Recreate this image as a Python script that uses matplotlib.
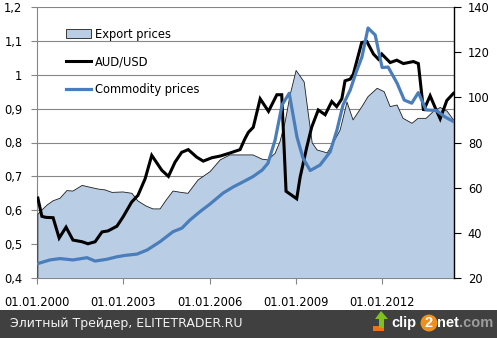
import numpy as np
import matplotlib
matplotlib.use("Agg")
import matplotlib.pyplot as plt
from matplotlib.patches import Patch, Rectangle, Polygon
from matplotlib.lines import Line2D

# export price index (right axis)
export_year = [2000.03, 2000.17, 2000.35, 2000.56, 2000.80, 2001.04, 2001.25, 2001.57, 2001.84,
               2002.12, 2002.37, 2002.61, 2002.99, 2003.30, 2003.51, 2003.79, 2004.03, 2004.28,
               2004.49, 2004.73, 2005.01, 2005.25, 2005.60, 2006.02, 2006.37, 2006.71, 2007.10,
               2007.51, 2007.83, 2008.03, 2008.28, 2008.45, 2008.63, 2008.80, 2009.01, 2009.29,
               2009.43, 2009.57, 2009.74, 2010.09, 2010.26, 2010.54, 2010.78, 2010.99, 2011.30,
               2011.51, 2011.83, 2012.07, 2012.28, 2012.52, 2012.73, 2013.04, 2013.25, 2013.53,
               2013.77, 2014.02, 2014.26, 2014.50]
export_idx = [48.2, 50.1, 52.3, 54.2, 55.3, 58.7, 58.5, 61.0, 60.2, 59.4, 59.0, 57.9, 58.1, 57.5,
              54.1, 51.9, 50.6, 50.6, 54.5, 58.5, 57.9, 57.5, 63.4, 67.1, 72.3, 74.5, 74.5, 74.5,
              72.6, 72.3, 75.2, 80.4, 89.2, 101.0, 111.9, 106.8, 93.1, 79.8, 76.7, 75.4, 78.9,
              85.5, 97.9, 90.0, 95.9, 100.3, 104.0, 102.5, 95.9, 96.6, 90.7, 88.5, 90.7, 90.7,
              93.6, 95.5, 93.9, 89.7]

# AUD/USD exchange rate (left axis)
aud_year = [2000.03, 2000.17, 2000.31, 2000.56, 2000.77, 2001.01, 2001.25, 2001.57, 2001.77,
            2002.02, 2002.26, 2002.47, 2002.78, 2002.99, 2003.29, 2003.51, 2003.76, 2003.99,
            2004.34, 2004.57, 2004.80, 2005.03, 2005.26, 2005.55, 2005.78, 2006.08, 2006.37,
            2006.71, 2007.06, 2007.23, 2007.35, 2007.52, 2007.76, 2008.05, 2008.34, 2008.51,
            2008.66, 2009.03, 2009.15, 2009.38, 2009.55, 2009.78, 2010.02, 2010.25, 2010.42,
            2010.60, 2010.71, 2010.89, 2011.00, 2011.29, 2011.47, 2011.70, 2011.87, 2011.99,
            2012.28, 2012.51, 2012.74, 2013.09, 2013.26, 2013.44, 2013.67, 2013.84, 2014.02,
            2014.25, 2014.48]
aud = [0.636, 0.582, 0.579, 0.578, 0.518, 0.550, 0.512, 0.507, 0.501, 0.507, 0.536, 0.539,
       0.553, 0.580, 0.624, 0.644, 0.693, 0.762, 0.718, 0.700, 0.742, 0.771, 0.779, 0.757,
       0.745, 0.755, 0.760, 0.769, 0.779, 0.811, 0.830, 0.845, 0.929, 0.892, 0.941, 0.941,
       0.656, 0.634, 0.698, 0.786, 0.845, 0.896, 0.882, 0.921, 0.906, 0.929, 0.982, 0.987,
       1.002, 1.095, 1.098, 1.061, 1.046, 1.061, 1.036, 1.043, 1.033, 1.039, 1.033, 0.894,
       0.938, 0.904, 0.870, 0.924, 0.945]

# commodity price index (right axis)
com_year = [2000.03, 2000.45, 2000.80, 2001.25, 2001.74, 2002.02, 2002.43, 2002.78, 2003.06,
            2003.48, 2003.83, 2004.28, 2004.73, 2005.04, 2005.32, 2005.67, 2006.02, 2006.47,
            2006.82, 2007.17, 2007.51, 2007.83, 2008.03, 2008.28, 2008.52, 2008.77, 2009.04,
            2009.25, 2009.50, 2009.84, 2010.19, 2010.43, 2010.64, 2010.89, 2011.10, 2011.30,
            2011.51, 2011.76, 2012.00, 2012.21, 2012.52, 2012.77, 2013.03, 2013.26, 2013.53,
            2013.88, 2014.19, 2014.48]
com = [26.4, 28.0, 28.6, 28.0, 29.0, 27.5, 28.3, 29.4, 30.0, 30.6, 32.4, 36.1, 40.5, 42.1,
       45.7, 49.4, 52.8, 57.6, 60.3, 62.6, 64.9, 67.8, 70.8, 81.1, 96.6, 101.8, 82.4, 73.1,
       67.6, 70.0, 75.8, 85.5, 96.6, 103.2, 111.2, 117.9, 130.7, 127.6, 113.2, 113.4, 106.3,
       98.8, 97.4, 102.1, 94.4, 94.2, 91.3, 89.3]

x_ticks = [2000, 2003, 2006, 2009, 2012]
x_labels = ["01.01.2000", "01.01.2003", "01.01.2006", "01.01.2009", "01.01.2012"]
left_ticks = [0.4, 0.5, 0.6, 0.7, 0.8, 0.9, 1.0, 1.1, 1.2]
left_labels = ["0,4", "0,5", "0,6", "0,7", "0,8", "0,9", "1", "1,1", "1,2"]
right_ticks = [20, 40, 60, 80, 100, 120, 140]

W, H = 497, 338
GRAY = "#868686"
FILL = "#B9CDE5"
BLUE = "#4A7EBB"

plt.rcParams["font.family"] = ["DejaVu Sans"]

fig = plt.figure(figsize=(W / 100, H / 100), dpi=100)
ax = fig.add_axes([37 / W, 60 / H, 417 / W, 271 / H])

# bottom layer: grid and left scale
ax.set_xlim(2000, 2014.5)
ax.set_ylim(0.4, 1.2)
ax.set_yticks(left_ticks)
ax.set_yticklabels(left_labels)
ax.set_xticks(x_ticks)
ax.set_xticklabels(x_labels)
ax.grid(axis="y", color=GRAY, lw=0.8)
ax.set_axisbelow(True)
ax.tick_params(axis="y", direction="out", length=4, color=GRAY, pad=6.5, labelsize=8.3)
ax.tick_params(axis="x", direction="out", length=4, color=GRAY, pad=9, labelsize=8.3)
for s in ["top", "right"]:
    ax.spines[s].set_visible(False)
for s in ["left", "bottom"]:
    ax.spines[s].set_color(GRAY)
    ax.spines[s].set_linewidth(0.8)

# export area on the right scale
axr = ax.twinx()
axr.set_ylim(20, 140)
axr.set_yticks(right_ticks)
axr.fill_between(export_year, export_idx, 20, facecolor=FILL, edgecolor="none")
axr.plot([export_year[0]] + export_year, [20] + export_idx, color="#1e1e1e", lw=0.6)
axr.tick_params(axis="y", direction="out", length=5, color="black", pad=5, labelsize=8.3)
for s in ["top", "left", "bottom"]:
    axr.spines[s].set_visible(False)
axr.spines["right"].set_color("black")
axr.spines["right"].set_linewidth(1.0)

# AUD/USD line on the left scale
axa = ax.twinx()
axa.set_ylim(0.4, 1.2)
axa.plot(aud_year, aud, color="black", lw=2.2, solid_joinstyle="miter")
axa.yaxis.set_visible(False)
for s in axa.spines.values():
    s.set_visible(False)

# commodity prices on the right scale, drawn on top
axc = ax.twinx()
axc.set_ylim(20, 140)
axc.plot(com_year, com, color=BLUE, lw=2.3)
axc.yaxis.set_visible(False)
for s in axc.spines.values():
    s.set_visible(False)

handles = [Patch(facecolor=FILL, edgecolor="#1e1e1e", lw=0.6),
           Line2D([], [], color="black", lw=2.2),
           Line2D([], [], color=BLUE, lw=2.3)]
fig.legend(handles, ["Export prices", "AUD/USD", "Commodity prices"],
           loc="center left", bbox_to_anchor=(66 / W, 1 - 62 / H), frameon=False,
           fontsize=8.3, handlelength=2.2, handletextpad=0.35, labelspacing=1.3,
           borderpad=0, borderaxespad=0)


def px(x, y):
    return (x / W, 1 - y / H)


# footer strip
fig.add_artist(Rectangle((0, 0), 1, 28 / H, transform=fig.transFigure,
                         facecolor="#404040", edgecolor="none"))
fig.text(*px(10, 324), "Элитный Трейдер, ELITETRADER.RU", color="#f2f2f2",
         fontsize=9, va="center", ha="left")

# clip2net logo
fig.add_artist(Polygon([px(373, 326), px(384, 326), px(384, 331), px(373, 331)],
                       closed=True, transform=fig.transFigure, facecolor="#e8731c", edgecolor="none"))
fig.add_artist(Polygon([px(375, 319), px(381, 311), px(388, 319), px(384, 319), px(384, 328),
                        px(379, 328), px(379, 319)],
                       closed=True, transform=fig.transFigure, facecolor="#7ec21f", edgecolor="none"))
logo_kw = dict(fontsize=10.5, fontweight="bold", va="center", family="Liberation Sans")
fig.text(*px(391, 323), "clip", color="white", ha="left", **logo_kw)
fig.text(*px(429, 323), "2", color="white", ha="center",
         bbox=dict(boxstyle="circle,pad=0.1", facecolor="#f0901c", edgecolor="none"), **logo_kw)
fig.text(*px(437, 323), "net", color="white", ha="left", **logo_kw)
fig.text(*px(459, 323), ".com", color="#9c9c9c", ha="left", **logo_kw)

fig.savefig("out.png", dpi=100)
